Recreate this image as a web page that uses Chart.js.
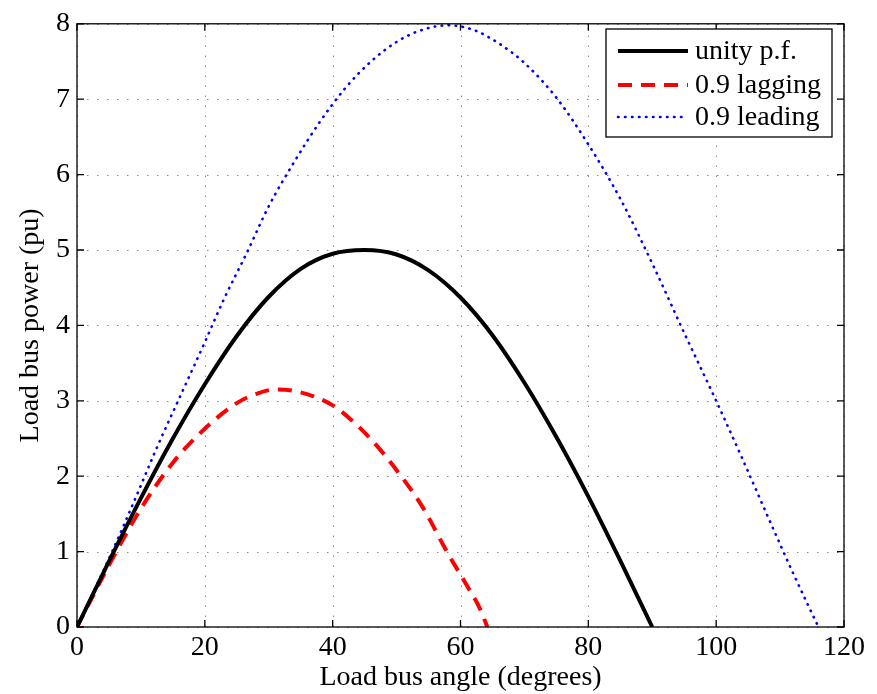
<!DOCTYPE html>
<html>
<head>
<meta charset="utf-8">
<script src="https://cdn.jsdelivr.net/npm/chart.js@4.4.1/dist/chart.umd.min.js"></script>
<style>
  html, body { margin: 0; background: #fff; }
  #wrap { width: 877px; height: 694px; }
</style>
</head>
<body>
<div id="wrap"><canvas id="powerChart"></canvas></div>
<script>
// values
const xTicks = [0, 20, 40, 60, 80, 100, 120];
const yTicks = [0, 1, 2, 3, 4, 5, 6, 7, 8];

const unityAngle = [0, 5, 10, 15, 20, 25, 30, 35, 40, 45, 50, 55, 60, 65, 70, 75, 80, 85, 90];
const unityPower = [0, 0.87, 1.71, 2.5, 3.22, 3.86, 4.38, 4.75, 4.95, 5.0, 4.94, 4.73, 4.37, 3.87, 3.24, 2.52, 1.73, 0.88, 0];

const laggingAngle = [0, 5, 10, 15, 20, 25, 28, 31, 34, 37, 40, 43, 46, 50, 54, 58, 61, 63, 64.2];
const laggingPower = [0, 0.82, 1.57, 2.18, 2.63, 2.97, 3.09, 3.15, 3.13, 3.06, 2.94, 2.74, 2.49, 2.08, 1.6, 0.98, 0.55, 0.25, 0];

const leadingAngle = [0, 5.5, 9, 12.5, 16.2, 19.8, 23, 26.5, 30, 34, 38, 42, 46, 50, 54, 58, 62, 66, 70, 75, 80, 85, 90, 95, 100, 104, 108, 112, 116];
const leadingPower = [0, 1.0, 1.68, 2.38, 3.07, 3.74, 4.35, 4.95, 5.58, 6.17, 6.7, 7.15, 7.5, 7.76, 7.92, 7.98, 7.92, 7.74, 7.48, 7.02, 6.4, 5.68, 4.82, 3.9, 3.0, 2.25, 1.48, 0.72, 0];

const seriesNames = ['unity p.f.', '0.9 lagging', '0.9 leading'];

function pairs(xs, ys) {
    return xs.map((x, i) => ({ x: x, y: ys[i] }));
}

const serif = '"Liberation Serif", "DejaVu Serif", serif';

const matlabFrame = {
    id: 'matlabFrame',
    beforeDatasetsDraw(chart) {
        const { ctx, chartArea: a, scales } = chart;
        ctx.save();
        ctx.strokeStyle = '#8a8a8a';
        ctx.lineWidth = 1;
        ctx.setLineDash([1.5, 8.5]);
        xTicks.forEach(v => {
            const px = Math.round(scales.x.getPixelForValue(v)) + 0.5;
            ctx.beginPath(); ctx.moveTo(px, a.bottom); ctx.lineTo(px, a.top); ctx.stroke();
        });
        yTicks.forEach(v => {
            const py = Math.round(scales.y.getPixelForValue(v)) + 0.5;
            ctx.beginPath(); ctx.moveTo(a.left, py); ctx.lineTo(a.right, py); ctx.stroke();
        });
        ctx.restore();
    },
    afterDatasetsDraw(chart) {
        const { ctx, chartArea: a, scales } = chart;
        ctx.save();
        ctx.setLineDash([]);
        ctx.strokeStyle = '#000';
        ctx.lineWidth = 1.3;
        ctx.strokeRect(a.left, a.top, a.right - a.left, a.bottom - a.top);
        const t = 7;
        xTicks.forEach(v => {
            const px = scales.x.getPixelForValue(v);
            ctx.beginPath();
            ctx.moveTo(px, a.bottom); ctx.lineTo(px, a.bottom - t);
            ctx.moveTo(px, a.top); ctx.lineTo(px, a.top + t);
            ctx.stroke();
        });
        yTicks.forEach(v => {
            const py = scales.y.getPixelForValue(v);
            ctx.beginPath();
            ctx.moveTo(a.left, py); ctx.lineTo(a.left + t, py);
            ctx.moveTo(a.right, py); ctx.lineTo(a.right - t, py);
            ctx.stroke();
        });

        // legend box, top right
        const bx = 606, by = 29, bw = 226, bh = 108;
        ctx.fillStyle = '#fff';
        ctx.fillRect(bx, by, bw, bh);
        ctx.lineWidth = 1.3;
        ctx.strokeRect(bx, by, bw, bh);
        const rows = [51, 85, 117];
        chart.data.datasets.forEach((ds, i) => {
            ctx.save();
            ctx.strokeStyle = ds.borderColor;
            ctx.lineWidth = ds.borderWidth;
            ctx.lineCap = ds.borderCapStyle || 'butt';
            ctx.setLineDash(ds.borderDash || []);
            ctx.beginPath();
            ctx.moveTo(618, rows[i]); ctx.lineTo(688, rows[i]);
            ctx.stroke();
            ctx.restore();
            ctx.fillStyle = '#000';
            ctx.font = '28px ' + serif;
            ctx.textBaseline = 'middle';
            ctx.fillText(ds.label, 695, rows[i] + 1);
        });
        ctx.restore();
    }
};

const data = {
    datasets: [
        {
            label: seriesNames[0],
            data: pairs(unityAngle, unityPower),
            borderColor: '#000000',
            borderWidth: 4,
            cubicInterpolationMode: 'monotone',
            pointRadius: 0
        },
        {
            label: seriesNames[1],
            data: pairs(laggingAngle, laggingPower),
            borderColor: '#ff0000',
            borderWidth: 4,
            borderDash: [14, 9],
            cubicInterpolationMode: 'monotone',
            pointRadius: 0
        },
        {
            label: seriesNames[2],
            data: pairs(leadingAngle, leadingPower),
            borderColor: '#0000ff',
            borderWidth: 2.6,
            borderDash: [0.5, 6.5],
            borderCapStyle: 'round',
            cubicInterpolationMode: 'monotone',
            pointRadius: 0
        }
    ]
};

const options = {
    responsive: false,
    animation: false,
    layout: { padding: { left: 0, top: 17, right: 33, bottom: 0 } },
    plugins: {
        legend: { display: false },
        tooltip: { enabled: false }
    },
    scales: {
        x: {
            type: 'linear',
            min: 0,
            max: 120,
            grid: { display: false, drawTicks: false },
            border: { display: false },
            afterBuildTicks: s => { s.ticks = xTicks.map(v => ({ value: v })); },
            afterFit: s => { s.height = 67; },
            ticks: { color: '#000', padding: 4, font: { family: serif, size: 28 } },
            title: {
                display: true,
                text: 'Load bus angle (degrees)',
                color: '#000',
                padding: { top: 0, bottom: 0 },
                font: { family: serif, size: 28 }
            }
        },
        y: {
            type: 'linear',
            min: 0,
            max: 8,
            grid: { display: false, drawTicks: false },
            border: { display: false },
            afterBuildTicks: s => { s.ticks = yTicks.map(v => ({ value: v })); },
            afterFit: s => { s.width = 77; },
            ticks: { color: '#000', padding: 7, font: { family: serif, size: 28 } },
            title: {
                display: true,
                text: 'Load bus power (pu)',
                color: '#000',
                padding: { top: 14, bottom: 0 },
                font: { family: serif, size: 28 }
            }
        }
    }
};

const canvas = document.getElementById('powerChart');
canvas.width = 877;
canvas.height = 694;
new Chart(canvas.getContext('2d'), {
    type: 'line',
    data: data,
    options: options,
    plugins: [matlabFrame]
});
</script>
</body>
</html>
